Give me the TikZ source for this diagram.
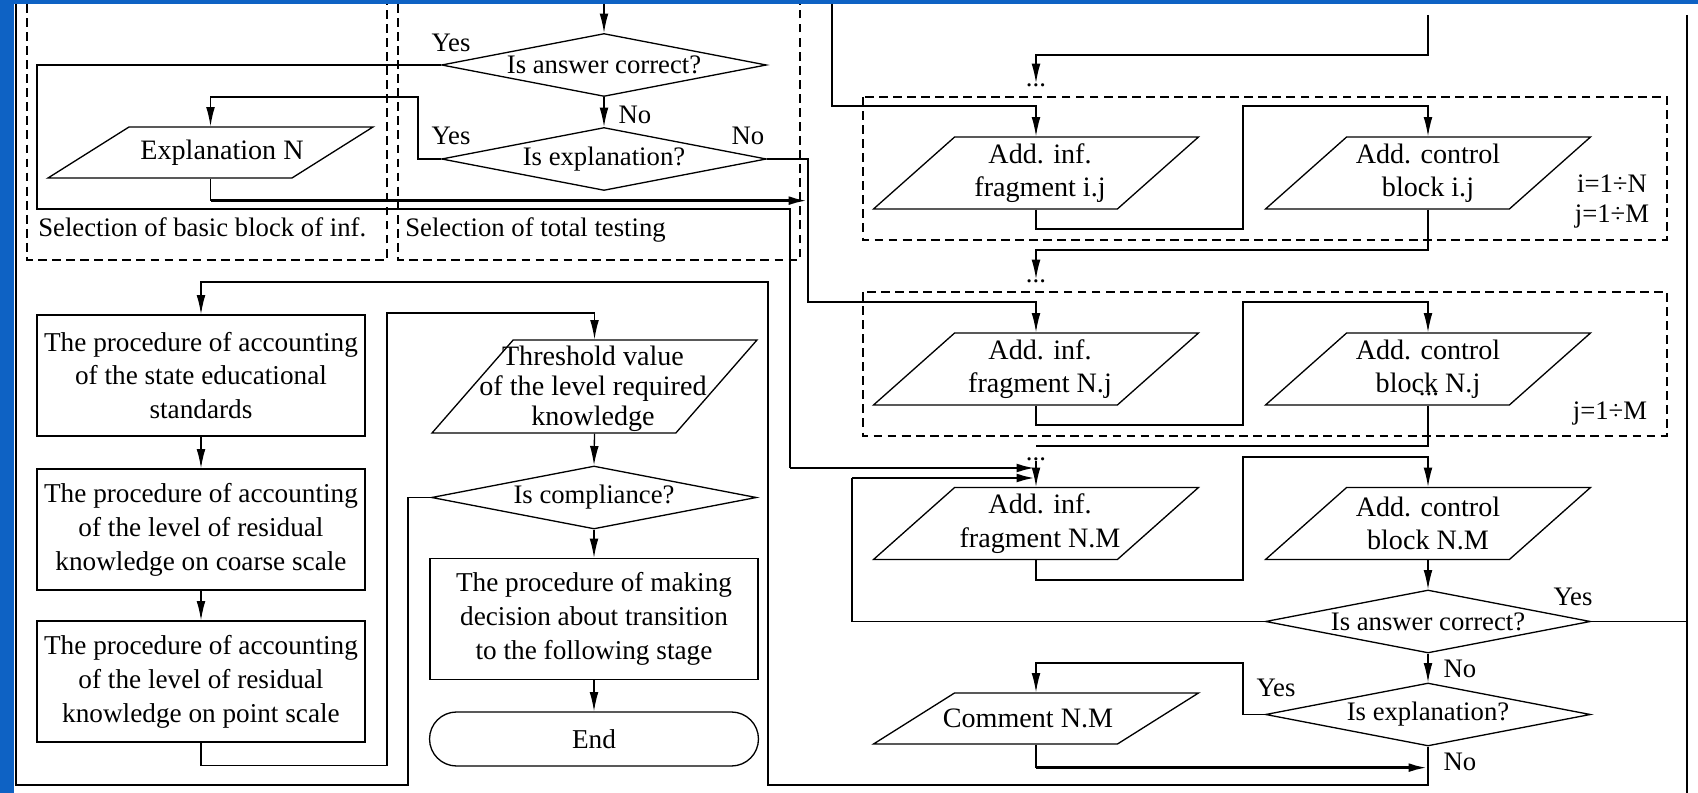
\documentclass[tikz,border=0pt]{standalone}
\usepackage{fontspec}
\setmainfont{Liberation Serif}
\usetikzlibrary{shapes.geometric, arrows.meta, positioning, calc}

\definecolor{slideblue}{RGB}{14,98,196}

\begin{document}
\begin{tikzpicture}[
  x=0.02cm, y=-0.02cm,
  font=\fontsize{15.2}{19.3}\selectfont,
  conn/.style={line width=0.75pt},
  arrow/.style={conn, -{Latex[length=11pt,width=5pt]}},
  thickarrow/.style={line width=1.7pt, -{Latex[length=11pt,width=5pt]}},
  dashbox/.style={line width=1.6pt, dash pattern=on 5pt off 3pt},
  proc/.style={rectangle, draw, conn, minimum width=6.56cm, minimum height=2.42cm, align=center, inner sep=0, font=\fontsize{15.5}{19.3}\selectfont},
  terminal/.style={rectangle, rounded corners=0.54cm, draw, conn, minimum width=6.58cm, minimum height=1.08cm, inner sep=0, font=\fontsize{15.5}{19.3}\selectfont},
  decision/.style={diamond, draw, conn, minimum width=6.5cm, minimum height=1.26cm, aspect=5.16, inner sep=0},
  io/.style={trapezium, trapezium stretches body, draw, conn, minimum width=6.5cm, inner xsep=0},
  ioS/.style={io, trapezium left angle=32.2, trapezium right angle=147.8, inner ysep=0.51cm},
  ioM/.style={io, trapezium left angle=41.6, trapezium right angle=138.4, inner ysep=0.72cm},
  ioL/.style={io, trapezium left angle=48.9, trapezium right angle=131.1, inner ysep=0.93cm},
  iotext/.style={align=center, inner sep=0, font=\fontsize{16}{19}\selectfont},
  ellip/.style={inner sep=0, anchor=north},
  tag/.style={inner sep=0}
]
\fill[slideblue] (0,0) rectangle (1698,793);
\fill[white] (14,4) rectangle (1698,793);
\useasboundingbox (0,0) rectangle (1698,793);

% Groups
\draw[dashbox] (27,4) -- (27,260) -- (387,260) -- (387,4);
\draw[dashbox] (398,4) -- (398,260) -- (800,260) -- (800,4);
\draw[dashbox] (863,97) rectangle (1667,240);
\draw[dashbox] (863,292) rectangle (1667,436);
\node[tag, anchor=base west] (gBasic) at (38,237) {Selection of basic block of inf.};
\node[tag, anchor=base west] (gTotal) at (405,237) {Selection of total testing};
\node[tag, anchor=base] (rangeI) at (1612,193) {i=1÷N};
\node[tag, anchor=base] (rangeJ) at (1612,223) {j=1÷M};
\node[tag, anchor=base] (rangeJN) at (1610,420) {j=1÷M};

% Selection blocks
\node[decision] (ansT) at (604,65) {Is answer correct?};
\node[decision] (explT) at (604,159) {Is explanation?};
\node[ioS] (explN) at (210.5,152.5) {};
\node[iotext] (explNt) at (222,152.5) {Explanation N};

% Additional information
\node[ioM] (fij) at (1036,173) {};
\node[iotext] (fijt) at (1040,173) {Add. inf.\\fragment i.j};
\node[ioM] (cij) at (1428,173) {};
\node[iotext] (cijt) at (cij) {Add. control\\block i.j};
\node[ioM] (fNj) at (1036,369) {};
\node[iotext] (fNjt) at (1040,369) {Add. inf.\\fragment N.j};
\node[ioM] (cNj) at (1428,369) {};
\node[iotext] (cNjt) at (cNj) {Add. control\\block N.j};
\node[ioM] (fNM) at (1036,523.5) {};
\node[iotext] (fNMt) at (1040,523.5) {Add. inf.\\fragment N.M};
\node[ioM] (cNM) at (1428,523.5) {};
\node[iotext] (cNMt) at (cNM) {Add. control\\block N.M};
\node[decision] (ansB) at (1428,621.5) {Is answer correct?};
\node[decision] (explB) at (1428,714.5) {Is explanation?};
\node[ioS] (com) at (1036,718.5) {};
\node[iotext] (comt) at (1028,718.5) {Comment N.M};

\node[ellip] (dotsA) at (1036,83) {...};
\node[ellip] (dotsB) at (1036,279) {...};
\node[ellip] (dotsC) at (1036,457) {...};
\node[ellip] (dotsD) at (1429,392) {...};

% Evaluation
\node[proc] (stand) at (201,375.5) {The procedure of accounting\\of the state educational\\standards};
\node[proc] (coarse) at (201,529.5) {The procedure of accounting\\of the level of residual\\knowledge on coarse scale};
\node[proc] (point) at (201,681.5) {The procedure of accounting\\of the level of residual\\knowledge on point scale};
\node[ioL] (thr) at (594.5,386.5) {};
\node[iotext, font=\fontsize{16}{17}\selectfont] (thrt) at (593,389) {Threshold value\\of the level required\\knowledge};
\node[decision] (comp) at (594,497.5) {Is compliance?};
\node[proc] (trans) at (594,619) {The procedure of making\\decision about transition\\to the following stage};
\node[terminal] (fin) at (594,739) {End};

% Answers
\node[tag] (yesT) at (451,43) {Yes};
\node[tag] (noT) at (635,115) {No};
\node[tag] (yesE) at (451,136) {Yes};
\node[tag] (noE) at (748,136) {No};
\node[tag] (yesB) at (1573,597) {Yes};
\node[tag] (noB) at (1460,669) {No};
\node[tag] (yesEB) at (1276,688) {Yes};
\node[tag] (noEB) at (1460,762) {No};

% Free ends and junctions
\coordinate (inT) at (604,4);
\coordinate (inL) at (832,4);
\coordinate (inR) at (1428,15);
\coordinate (outL) at (16,4);
\coordinate (rbusT) at (1687,15);
\coordinate (rbusB) at (1687,793);
\coordinate (busNo) at (808,200);
\coordinate (busNoB) at (1428,767);
\coordinate (bendA) at (790,468);
\coordinate (bendB) at (852,478);
\coordinate (joinA) at (1036,468);
\coordinate (joinB) at (1036,478);

% Connectors, left part
\draw[arrow] (inT) -- (ansT.north);
\draw[arrow] (ansT.south) -- (explT.north);
\draw[conn] (ansT.west) -| (37,209) -| (bendA);
\draw[thickarrow] (bendA) -- (joinA);
\draw[arrow] (explT.west) -| (418,97) -| (explN.north);
\draw[arrow] (explT.east) -| (808,302) -| (fNj.north);
\draw[conn] (explN.south) -- ++(0,22) coordinate (explNo);
\draw[thickarrow] (explNo) -- (explNo -| busNo);

% Connectors, right part
\draw[arrow] (inL) |- (1036,106) -- (fij.north);
\draw[arrow] (inR) |- (1036,55) -- (dotsA.north);
\draw[arrow] (fij.south) |- (1243,229) |- (1428,106) -- (cij.north);
\draw[arrow] (cij.south) |- (1036,250) -- (dotsB.north);
\draw[arrow] (fNj.south) |- (1243,425) |- (1428,302) -- (cNj.north);
\draw[conn] (cNj.south) |- (1036,446);
\draw[arrow] (dotsC.south) -- (fNM.north);
\draw[arrow] (fNM.south) |- (1243,580) |- (1428,457) -- (cNM.north);
\draw[arrow] (cNM.south) -- (ansB.north);
\draw[arrow] (ansB.south) -- (explB.north);
\draw[conn] (rbusT) -- (rbusB);
\draw[conn] (ansB.east) -- (ansB.east -| rbusT);
\draw[conn] (ansB.west) -| (bendB);
\draw[thickarrow] (bendB) -- (joinB);
\draw[arrow] (explB.west) -| (1243,663) -| (com.north);
\draw[conn] (com.south) -- ++(0,23) coordinate (comNo);
\draw[thickarrow] (comNo) -- (comNo -| busNoB);
\draw[arrow] (explB.south) -- (1428,785) -| (768,282) -| (stand.north);

% Connectors, evaluation
\draw[arrow] (stand.south) -- (coarse.north);
\draw[arrow] (coarse.south) -- (point.north);
\draw[arrow] (point.south) -- ++(0,23) -| (387,313) -| (thr.north);
\draw[arrow] (thr.south) -- (comp.north);
\draw[conn] (comp.west) -| (408,785) -| (outL);
\draw[arrow] (comp.south) -- (trans.north);
\draw[arrow] (trans.south) -- (fin.north);

\end{tikzpicture}
\end{document}
